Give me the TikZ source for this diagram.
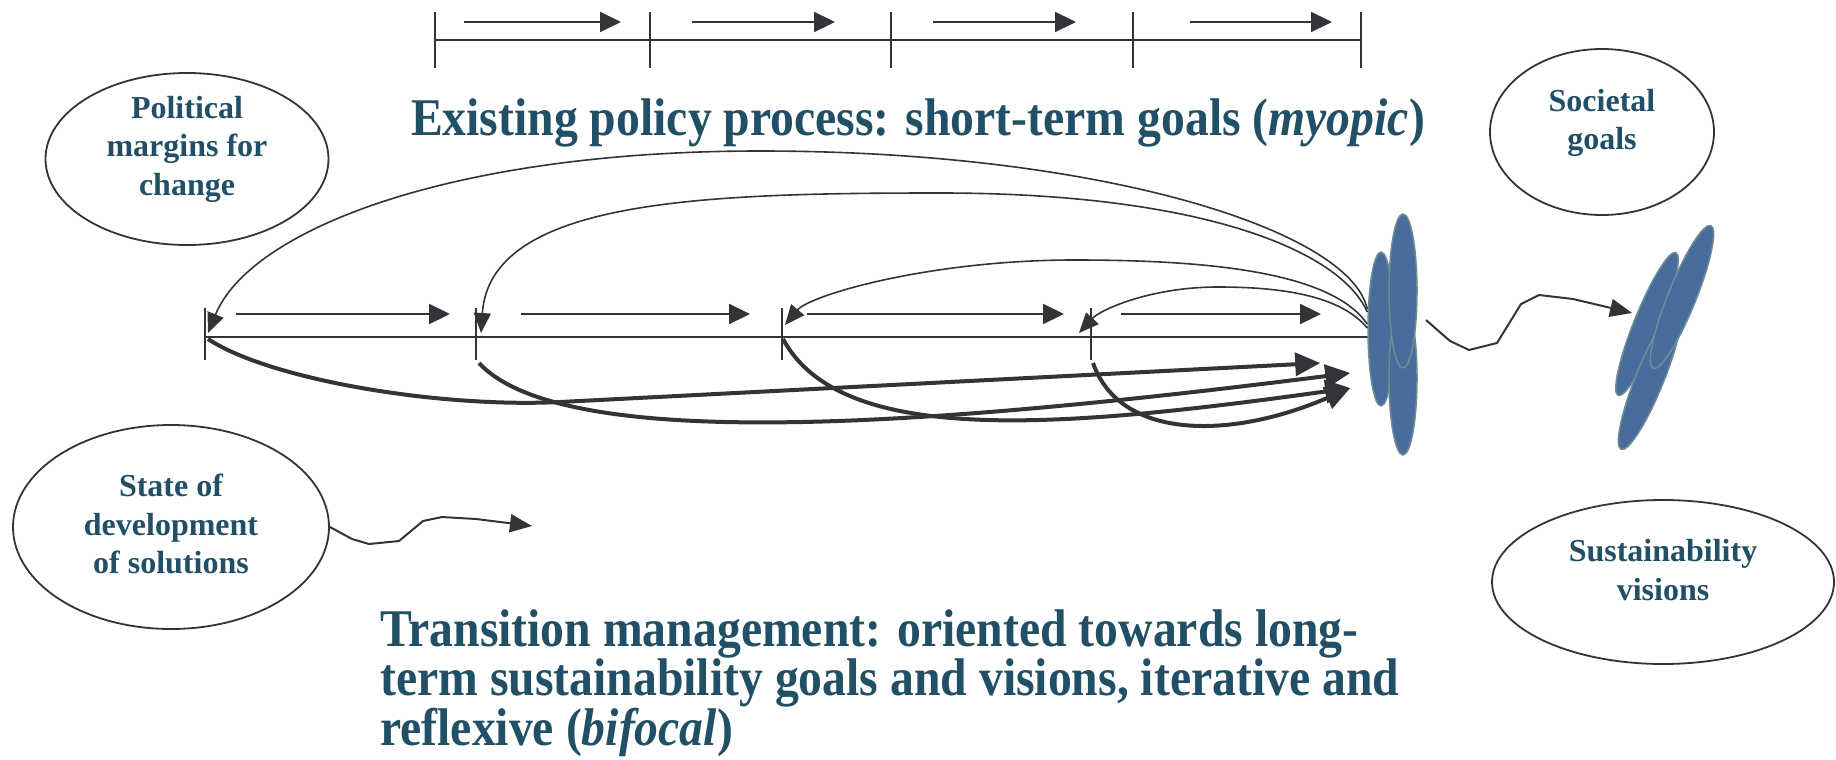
\documentclass[tikz,border=0pt]{standalone}
\usepackage{fontspec}
\setmainfont{Liberation Serif}
\newfontfamily\ttlfamily[FakeStretch=0.9]{Liberation Serif}
\usetikzlibrary{arrows.meta,shapes.geometric}
\definecolor{txt}{RGB}{33,79,102}
\definecolor{ln}{RGB}{52,52,56}
\definecolor{bfill}{RGB}{72,108,155}
\definecolor{bdraw}{RGB}{110,140,150}
\begin{document}
\begin{tikzpicture}[x=1pt,y=-1pt,
  ell/.style={draw=ln, line width=1.8pt, ellipse, inner sep=0pt},
  lbl/.style={text=txt, font=\fontsize{32}{38.5}\selectfont\bfseries, align=center, inner sep=0pt},
  ttl/.style={text=txt, font=\ttlfamily\fontsize{53}{46}\selectfont\bfseries, inner sep=0pt},
  blob/.style={ellipse, fill=bfill, draw=bdraw, line width=1.5pt, inner sep=0pt},
  tline/.style={draw=ln, line width=2pt},
  tickmark/.style={draw=ln, line width=2pt},
  sarrow/.style={draw=ln, line width=2.2pt, -{Triangle[length=21pt,width=20pt]}},
  fb/.style={draw=ln, line width=1.6pt, -{Triangle[length=20pt,width=17pt]}},
  boldarr/.style={draw=ln, line width=4pt, -{Triangle[length=25pt,width=23pt]}},
  squig/.style={draw=ln, line width=2pt, line join=round, -{Triangle[length=22pt,width=18pt]}}
]
\useasboundingbox (0,0) rectangle (1836,760);

% ---------- top timeline (existing policy process)
\coordinate (u0) at (435,40);
\coordinate (u1) at (650,40);
\coordinate (u2) at (891,40);
\coordinate (u3) at (1133,40);
\coordinate (u4) at (1361,40);
\draw[tline] (u0) -- (u4);
\foreach \i in {0,...,4} \draw[tickmark] ([yshift=28pt]u\i) -- ([yshift=-28pt]u\i);
\draw[sarrow] ([shift={(29,-18)}]u0) -- ([shift={(-29,-18)}]u1);
\draw[sarrow] ([shift={(42,-18)}]u1) -- ([shift={(-56,-18)}]u2);
\draw[sarrow] ([shift={(42,-18)}]u2) -- ([shift={(-57,-18)}]u3);
\draw[sarrow] ([shift={(57,-18)}]u3) -- ([shift={(-29,-18)}]u4);

\node[ttl, anchor=base] (t1) at (918,135) {Existing policy process: short-term goals (\textit{myopic})};

% ---------- ellipses with labels
\node[ell, minimum width=283pt, minimum height=172pt] (pol) at (187,159) {};
\node[lbl] (poltxt) at ([yshift=10pt]pol.center) {Political\\margins for\\change};

\node[ell, minimum width=316pt, minimum height=204pt] (sod) at (171,527) {};
\node[lbl] (sodtxt) at ([yshift=3pt]sod.center) {State of\\development\\of solutions};

\node[ell, minimum width=224pt, minimum height=166pt] (soc) at (1602,132) {};
\node[lbl] (soctxt) at ([yshift=9pt]soc.center) {Societal\\goals};

\node[ell, minimum width=342pt, minimum height=164pt] (sus) at (1663,582) {};
\node[lbl] (sustxt) at ([yshift=12pt]sus.center) {Sustainability\\visions};

% ---------- middle timeline (transition management)
\coordinate (m0) at (205,337);
\coordinate (m1) at (476,337);
\coordinate (m2) at (782,337);
\coordinate (m3) at (1091,337);
\coordinate (mend) at (1368,337);
\draw[tline] (m0) -- (mend);
\foreach \i in {0,...,3} \draw[tickmark] ([yshift=29pt]m\i) -- ([yshift=-23pt]m\i);
\draw[sarrow] ([shift={(31,-23)}]m0) -- ([shift={(-26,-23)}]m1);
\draw[sarrow] ([shift={(45,-23)}]m1) -- ([shift={(-32,-23)}]m2);
\draw[sarrow] ([shift={(25,-23)}]m2) -- ([shift={(-27,-23)}]m3);
\draw[sarrow] ([shift={(30,-23)}]m3) -- ([shift={(-47,-23)}]mend);

% ---------- blue clusters
\node[blob, minimum width=26pt, minimum height=154pt] (A) at (1381,329) {};
\node[blob, minimum width=28pt, minimum height=154pt] (C) at (1403,378) {};
\node[blob, minimum width=28pt, minimum height=154pt] (B) at (1403,291) {};

\node[blob, rotate=-22, minimum width=26pt, minimum height=154pt] (E) at (1647,324) {};
\node[blob, rotate=-22, minimum width=28pt, minimum height=154pt] (F) at (1650,378) {};
\node[blob, rotate=-22, minimum width=28pt, minimum height=154pt] (D) at (1682,297) {};

% ---------- feedback arcs (thin)
\draw[fb] ([yshift=20pt]A.west) .. controls (1350,230) and (1100,151) .. (760,151)
          .. controls (450,151) and (250,230) .. ([shift={(3,-4)}]m0);
\draw[fb] ([yshift=17pt]A.west) .. controls (1340,250) and (1200,193) .. (940,193)
          .. controls (700,193) and (490,200) .. ([shift={(5,-4)}]m1);
\draw[fb] ([yshift=5pt]A.west) .. controls (1330,270) and (1200,260) .. (1074,260)
          .. controls (930,260) and (810,295) .. ([shift={(3,-12)}]m2);
\draw[fb] ([yshift=1pt]A.west) .. controls (1340,295) and (1280,287) .. (1218,287)
          .. controls (1150,287) and (1100,310) .. ([shift={(-12,-4)}]m3);

% ---------- bold forward arrows
\draw[boldarr] ([shift={(3,2)}]m0) .. controls (270,380) and (440,408) .. (560,402) -- ([shift={(-47,34)}]A.west);
\draw[boldarr] ([shift={(3,26)}]m1) .. controls (560,450) and (900,430) .. ([shift={(-17,44)}]A.west);
\draw[boldarr] ([shift={(1,2)}]m2) .. controls (840,445) and (1050,430) .. ([shift={(-17,59)}]A.west);
\draw[boldarr] ([shift={(2,26)}]m3) .. controls (1120,440) and (1230,440) .. ([shift={(-17,59)}]A.west);

% ---------- squiggly arrows
\coordinate (sq1e) at (532,526);
\draw[squig] (sod.east) -- (352,539) -- (369,544) -- (399,541) -- (423,521) -- (442,517) -- (476,519) -- (sq1e);
\coordinate (sq2s) at (1426,320);
\coordinate (sq2e) at (1632,313);
\draw[squig] (sq2s) -- (1450,341) -- (1469,350) -- (1497,343) -- (1521,304) -- (1539,295) -- (1573,299) -- (sq2e);

% ---------- bottom title
\node[ttl, anchor=south west, align=left] (t2) at (380,757)
  {Transition management: oriented towards long-\\term sustainability goals and visions, iterative and\\reflexive (\textit{bifocal})};
\end{tikzpicture}
\end{document}
